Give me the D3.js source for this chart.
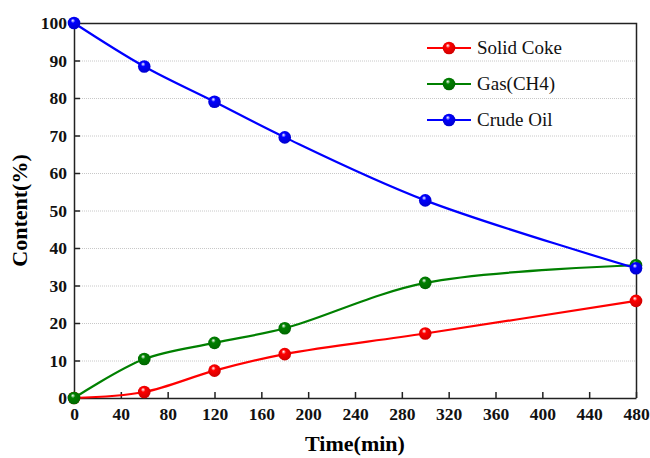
<!DOCTYPE html>
<html>
<head>
<meta charset="utf-8">
<script src="https://cdn.jsdelivr.net/npm/d3@7"></script>
<style>
  html, body { margin: 0; padding: 0; background: #fff; }
  svg { display: block; }
  svg text { font-family: "Liberation Serif", "Times New Roman", Times, serif; }
</style>
</head>
<body>
<svg id="chart" width="650" height="458"></svg>
<script>
// Reaction time (min)
const times = [0, 60, 120, 180, 300, 480];

// Product content (%) at each time
const solidCoke = [0, 1.6, 7.3, 11.7, 17.2, 25.9];
const gasCH4   = [0, 10.4, 14.7, 18.6, 30.7, 35.4];
const crudeOil = [100, 88.4, 79.0, 69.5, 52.7, 34.6];

const seriesNames  = ["Solid Coke", "Gas(CH4)", "Crude Oil"];
const seriesColors = ["#ff0000", "#008000", "#0000ff"];
const seriesValues = [solidCoke, gasCH4, crudeOil];

const xTicks = d3.range(0, 481, 40);
const yTicks = d3.range(0, 101, 10);

const svg = d3.select("#chart");
const plotL = 74, plotR = 636, plotT = 23, plotB = 398;

const x = d3.scaleLinear().domain([0, 480]).range([plotL, plotR]);
const y = d3.scaleLinear().domain([0, 100]).range([plotB, plotT]);

// Glossy marker gradients
const defs = svg.append("defs");
seriesColors.forEach((c, i) => {
  const g = defs.append("radialGradient")
    .attr("id", "ball" + i)
    .attr("cx", "45%").attr("cy", "40%").attr("r", "60%")
    .attr("fx", "40%").attr("fy", "30%");
  g.append("stop").attr("offset", "0%").attr("stop-color", "#ffffff");
  g.append("stop").attr("offset", "30%").attr("stop-color", c);
  g.append("stop").attr("offset", "100%").attr("stop-color", d3.color(c).darker(0.6));
});

// Horizontal dotted grid
svg.append("g")
  .selectAll("line")
  .data(yTicks.filter(v => v > 0 && v < 100))
  .join("line")
  .attr("x1", plotL).attr("x2", plotR)
  .attr("y1", d => y(d) + 0.5).attr("y2", d => y(d) + 0.5)
  .attr("stroke", "#c8c8c8")
  .attr("stroke-width", 1)
  .attr("stroke-dasharray", "1,1");

// Frame (top and right)
svg.append("path")
  .attr("d", `M${plotL},${plotT + 0.5}H${plotR + 0.5}V${plotB}`)
  .attr("fill", "none").attr("stroke", "#222").attr("stroke-width", 1.5);

// Axes with inward ticks
const xAxis = svg.append("g")
  .attr("transform", `translate(0,${plotB})`)
  .call(d3.axisBottom(x).tickValues(xTicks).tickSize(-6).tickPadding(10).tickSizeOuter(0));
const yAxis = svg.append("g")
  .attr("transform", `translate(${plotL},0)`)
  .call(d3.axisLeft(y).tickValues(yTicks).tickSize(-6).tickPadding(7).tickSizeOuter(0));

[xAxis, yAxis].forEach(a => {
  a.attr("font-family", null).attr("font-size", null);
  a.select(".domain").attr("stroke", "#222").attr("stroke-width", 1.5);
  a.selectAll(".tick line").attr("stroke", "#222").attr("stroke-width", 1.5);
  a.selectAll(".tick text")
    .attr("font-weight", "bold")
    .attr("font-size", 17.5)
    .attr("fill", "#111");
});

// Axis titles
svg.append("text")
  .attr("x", (plotL + plotR) / 2).attr("y", 451)
  .attr("text-anchor", "middle")
  .attr("font-weight", "bold").attr("font-size", 22)
  .text("Time(min)");
svg.append("text")
  .attr("transform", `translate(27,${(plotT + plotB) / 2}) rotate(-90)`)
  .attr("text-anchor", "middle")
  .attr("font-weight", "bold").attr("font-size", 22)
  .text("Content(%)");

// Smooth series lines and markers
const line = d3.line()
  .x(d => x(d[0])).y(d => y(d[1]))
  .curve(d3.curveCatmullRom.alpha(0.5));

seriesValues.forEach((vals, i) => {
  const pts = times.map((t, j) => [t, vals[j]]);
  svg.append("path")
    .datum(pts)
    .attr("d", line)
    .attr("fill", "none")
    .attr("stroke", seriesColors[i])
    .attr("stroke-width", 2.2);
  svg.append("g").selectAll("circle")
    .data(pts)
    .join("circle")
    .attr("cx", d => x(d[0])).attr("cy", d => y(d[1]))
    .attr("r", 6.3)
    .attr("fill", `url(#ball${i})`);
});

// Legend
const legend = svg.append("g");
seriesNames.forEach((name, i) => {
  const ly = 48 + i * 36;
  legend.append("line")
    .attr("x1", 427).attr("x2", 471).attr("y1", ly).attr("y2", ly)
    .attr("stroke", seriesColors[i]).attr("stroke-width", 2.2);
  legend.append("circle")
    .attr("cx", 449).attr("cy", ly).attr("r", 6.3)
    .attr("fill", `url(#ball${i})`);
  legend.append("text")
    .attr("x", 477).attr("y", ly + 6)
    .attr("font-size", 19)
    .attr("fill", "#111")
    .text(name);
});
</script>
</body>
</html>
